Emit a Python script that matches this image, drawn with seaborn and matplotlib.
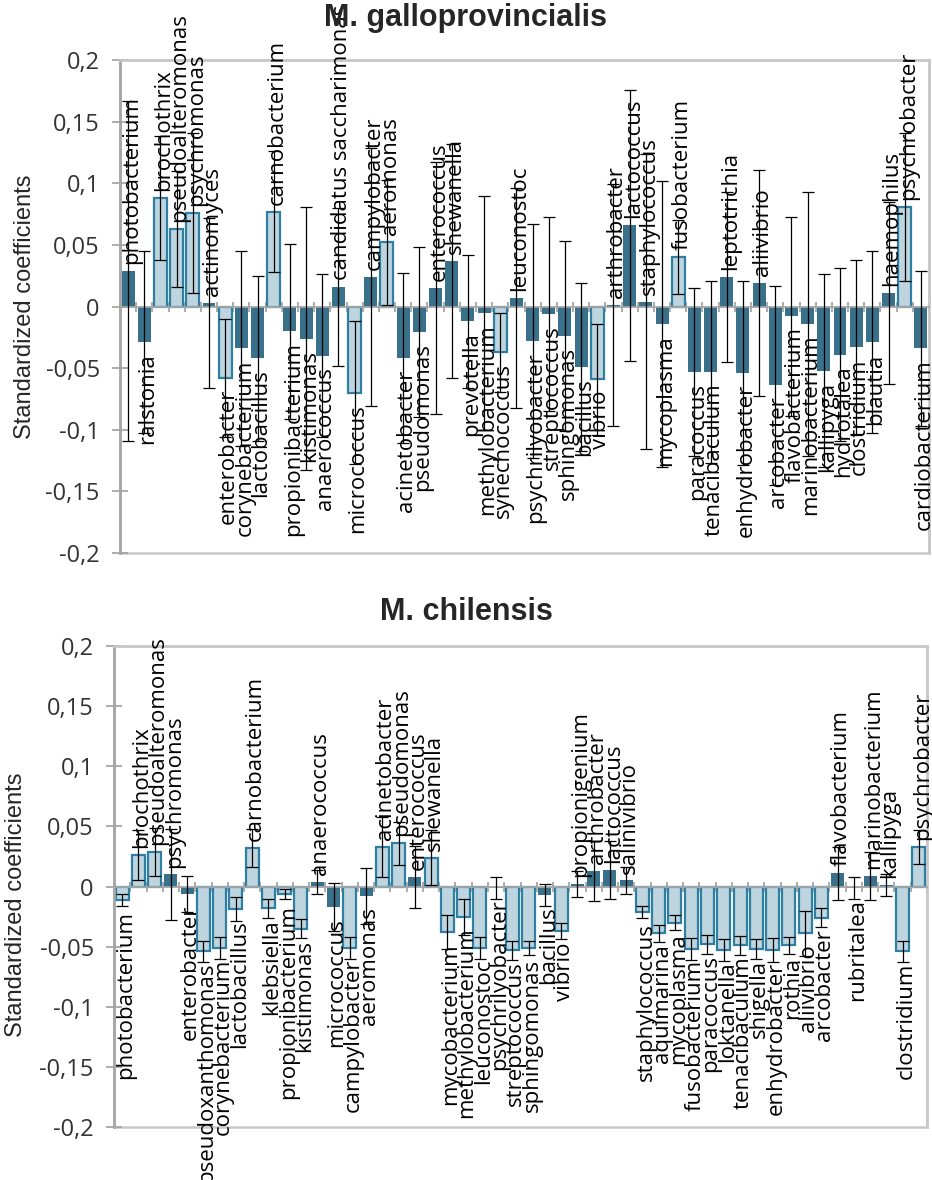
import numpy as np
import pandas as pd
import matplotlib
matplotlib.use('Agg')
import matplotlib.pyplot as plt
from matplotlib.ticker import FuncFormatter
import seaborn as sns

# M. galloprovincialis
genus_g = ["photobacterium", "ralstonia", "brochothrix", "pseudoalteromonas", "psychromonas",
           "actinomyces", "enterobacter", "corynebacterium", "lactobacillus", "carnobacterium",
           "propionibacterium", "kistimonas", "anaerococcus", "candidatus saccharimonas", "micrococcus",
           "campylobacter", "aeromonas", "acinetobacter", "pseudomonas", "enterococcus",
           "shewanella", "prevotella", "methylobacterium", "synechococcus", "leuconostoc",
           "psychrilyobacter", "streptococcus", "sphingomonas", "bacillus", "vibrio",
           "arthrobacter", "lactococcus", "staphylococcus", "mycoplasma", "fusobacterium",
           "paracoccus", "tenacibaculum", "leptotrichia", "enhydrobacter", "aliivibrio",
           "arcobacter", "flavobacterium", "marinobacterium", "kallipyga", "hydrotalea",
           "clostridium", "blautia", "haemophilus", "psychrobacter", "cardiobacterium"]
coef_g = [0.029, -0.029, 0.088, 0.063, 0.076, 0.003, -0.058, -0.034, -0.042, 0.077,
          -0.020, -0.026, -0.040, 0.016, -0.070, 0.024, 0.052, -0.042, -0.021, 0.015,
          0.037, -0.012, -0.005, -0.037, 0.007, -0.028, -0.006, -0.024, -0.049, -0.059,
          0.001, 0.066, 0.004, -0.014, 0.040, -0.053, -0.053, 0.024, -0.054, 0.019,
          -0.064, -0.008, -0.014, -0.052, -0.039, -0.033, -0.029, 0.011, 0.081, -0.034]
err_g = [0.138, 0.074, 0.050, 0.047, 0.065, 0.069, 0.048, 0.079, 0.067, 0.049,
         0.071, 0.107, 0.066, 0.064, 0.058, 0.105, 0.051, 0.069, 0.069, 0.102,
         0.095, 0.054, 0.095, 0.032, 0.089, 0.095, 0.079, 0.077, 0.068, 0.045,
         0.098, 0.110, 0.120, 0.116, 0.030, 0.068, 0.074, 0.069, 0.075, 0.092,
         0.081, 0.081, 0.107, 0.078, 0.070, 0.071, 0.074, 0.074, 0.060, 0.063]

# M. chilensis
genus_c = ["photobacterium", "brochothrix", "pseudoalteromonas", "psychromonas", "enterobacter",
           "pseudoxanthomonas", "corynebacterium", "lactobacillus", "carnobacterium", "klebsiella",
           "propionibacterium", "kistimonas", "anaerococcus", "micrococcus", "campylobacter",
           "aeromonas", "acinetobacter", "pseudomonas", "enterococcus", "shewanella",
           "mycobacterium", "methylobacterium", "leuconostoc", "psychrilyobacter", "streptococcus",
           "sphingomonas", "bacillus", "vibrio", "propionigenium", "arthrobacter",
           "lactococcus", "salinivibrio", "staphylococcus", "aquimarina", "mycoplasma",
           "fusobacterium", "paracoccus", "loktanella", "tenacibaculum", "shigella",
           "enhydrobacter", "rothia", "aliivibrio", "arcobacter", "flavobacterium",
           "rubritalea", "marinobacterium", "kallipyga", "clostridium", "psychrobacter"]
coef_c = [-0.011, 0.026, 0.029, 0.010, -0.006, -0.054, -0.051, -0.019, 0.032, -0.018,
          -0.006, -0.035, 0.004, -0.017, -0.051, -0.008, 0.033, 0.036, 0.008, 0.024,
          -0.038, -0.025, -0.051, -0.001, -0.053, -0.051, -0.007, -0.037, 0.002, 0.013,
          0.014, 0.005, -0.021, -0.039, -0.030, -0.052, -0.048, -0.053, -0.049, -0.052,
          -0.053, -0.049, -0.039, -0.026, 0.011, -0.001, 0.009, 0.001, -0.054, 0.033]
err_c = [0.005, 0.021, 0.020, 0.038, 0.015, 0.009, 0.009, 0.010, 0.016, 0.008,
         0.004, 0.008, 0.010, 0.020, 0.009, 0.023, 0.025, 0.018, 0.026, 0.023,
         0.014, 0.015, 0.009, 0.009, 0.008, 0.006, 0.009, 0.007, 0.011, 0.025,
         0.024, 0.011, 0.005, 0.007, 0.006, 0.009, 0.008, 0.009, 0.008, 0.008,
         0.010, 0.007, 0.019, 0.008, 0.022, 0.009, 0.020, 0.009, 0.009, 0.014]

y_ticks = [-0.2, -0.15, -0.1, -0.05, 0, 0.05, 0.1, 0.15, 0.2]

DARK = '#2b7598'
LIGHT = '#b9d7e4'
EDGE = '#2f7fa2'
GRID = '#a6a6a6'

sns.set_style('white')
plt.rcParams['font.family'] = ['Open Sans', 'DejaVu Sans']

fig = plt.figure(figsize=(9.32, 11.8), dpi=100)
ax_top = fig.add_axes([120 / 932, 1 - 553 / 1180, 809 / 932, 493 / 1180])
ax_bot = fig.add_axes([114 / 932, 1 - 1127 / 1180, 813 / 932, 481 / 1180])


def comma_fmt(v, pos):
    return f'{round(v, 2):g}'.replace('.', ',')


def draw_panel(ax, genus, coef, err):
    df = pd.DataFrame({'genus': genus, 'coef': coef, 'err': err})
    # light bars: error bar does not cross zero
    df['kind'] = np.where(df['coef'].abs() > df['err'], 'sig', 'ns')
    sns.barplot(data=df, x='genus', y='coef', hue='kind', hue_order=['ns', 'sig'],
                palette={'ns': DARK, 'sig': LIGHT}, dodge=False, width=0.8,
                errorbar=None, legend=False, ax=ax, zorder=2)
    for cont in ax.containers:
        for bar in cont:
            if bar.get_facecolor()[2] > 0.8:
                bar.set_edgecolor(EDGE)
                bar.set_linewidth(1.6)
            else:
                bar.set_edgecolor('none')
    x = np.arange(len(df))
    ax.errorbar(x, df['coef'], yerr=df['err'], fmt='none', ecolor='black',
                elinewidth=0.9, capsize=4, capthick=0.9, zorder=3)

    for i, (g, v) in enumerate(zip(df['genus'], df['coef'])):
        up = v >= 0
        ax.annotate(g, (i, v), xytext=(2.5, 5 if up else -8), textcoords='offset points',
                    rotation=90, ha='center', va='bottom' if up else 'top',
                    fontsize=16, color='black', annotation_clip=False, zorder=4)

    ax.set_xlim(-0.5, len(df) - 0.5)
    ax.set_ylim(-0.2, 0.2)
    ax.set_yticks(y_ticks)
    ax.yaxis.set_major_formatter(FuncFormatter(comma_fmt))
    ax.set_xticks(np.arange(len(df) + 1) - 0.5)
    ax.set_xticklabels([])
    ax.set_xlabel('')
    ax.set_ylabel('')

    ax.spines['bottom'].set_position(('data', 0))
    ax.spines['bottom'].set_color(GRID)
    ax.spines['bottom'].set_linewidth(1.3)
    ax.spines['left'].set_color(GRID)
    ax.spines['left'].set_linewidth(2)
    for s in ['top', 'right']:
        ax.spines[s].set_color('#c8c8c8')
        ax.spines[s].set_linewidth(1.8)
    ax.patch.set_edgecolor('#c8c8c8')
    ax.patch.set_linewidth(1.8)

    ax.tick_params(axis='x', direction='inout', length=7, width=1.3, color=GRID, bottom=True)
    ax.tick_params(axis='y', direction='inout', length=11, width=1.3, color=GRID,
                   labelsize=17, labelcolor='#333333', pad=9, left=True)


draw_panel(ax_top, genus_g, coef_g, err_g)
draw_panel(ax_bot, genus_c, coef_c, err_c)

title_kw = dict(ha='center', va='center', fontsize=22, fontweight='bold',
                family=['Liberation Sans', 'DejaVu Sans'])
fig.text(0.5, 1 - 18 / 1180, 'M. galloprovincialis', **title_kw)
fig.text(0.5, 1 - 612 / 1180, 'M. chilensis', **title_kw)

ylab_kw = dict(ha='center', va='center', rotation=90, fontsize=17,
               family=['Liberation Sans', 'DejaVu Sans'])
fig.text(25 / 932, 1 - 307 / 1180, 'Standardized coefficients', **ylab_kw)
fig.text(16 / 932, 1 - 905 / 1180, 'Standardized coefficients', **ylab_kw)

fig.savefig('out.png', dpi=100)
